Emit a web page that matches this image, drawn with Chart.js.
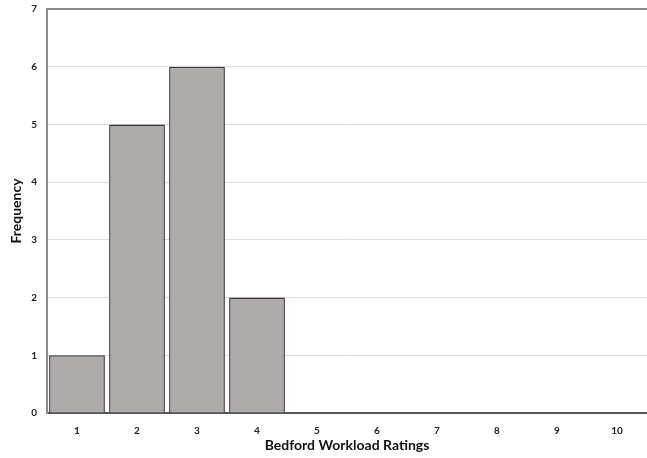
<!DOCTYPE html>
<html>
<head>
<meta charset="utf-8">
<script src="https://cdn.jsdelivr.net/npm/chart.js"></script>
<style>
  html, body { margin: 0; padding: 0; background: #fff; overflow: hidden; }
  #outer { width: 647px; height: 458px; overflow: hidden; position: relative; }
  #wrap { width: 647px; height: 465px; position: absolute; top: -7px; left: 0; }
</style>
</head>
<body>
<div id="outer"><div id="wrap"><canvas id="histChart"></canvas></div></div>
<script>
const ratings = ["1", "2", "3", "4", "5", "6", "7", "8", "9", "10"];
const frequency = [1, 5, 6, 2, 0, 0, 0, 0, 0, 0];
const yTicks = [0, 1, 2, 3, 4, 5, 6, 7];

const ctx = document.getElementById("histChart").getContext("2d");
new Chart(ctx, {
  type: "bar",
  data: {
    labels: ratings,
    datasets: [{
      label: "Frequency",
      data: frequency,
      backgroundColor: "#b0abab",
      borderColor: "#3a3a3a",
      borderWidth: 1.5,
      barPercentage: 0.93,
      categoryPercentage: 1.0,
    }],
  },
  options: {
    responsive: true,
    maintainAspectRatio: false,
    animation: false,
    layout: { padding: { top: 3, right: 0, left: 4, bottom: 0 } },
    plugins: {
      legend: { display: false },
      tooltip: { enabled: false },
    },
    scales: {
      x: {
        grid: { display: false },
        border: { color: "#555", width: 2 },
        ticks: {
          color: "#222",
          font: { family: "Lato", weight: "bold", size: 10 },
          padding: 4,
          maxRotation: 0,
        },
        title: {
          display: true,
          text: "Bedford Workload Ratings",
          color: "#111",
          font: { family: "Lato", weight: "bold", size: 14 },
          padding: { top: 3 },
        },
        afterFit: (scale) => { scale.height = 45; },
      },
      y: {
        min: 0,
        max: 7,
        afterBuildTicks: (scale) => { scale.ticks = yTicks.map((v) => ({ value: v })); },
        grid: {
          color: (c) => (c.tick && c.tick.value === 7 ? "#8a8a8a" : "#dcdcdc"),
          lineWidth: (c) => (c.tick && c.tick.value === 7 ? 2 : 1),
          drawTicks: false,
        },
        border: { color: "#8a8a8a", width: 2 },
        ticks: {
          color: "#222",
          font: { family: "Lato", weight: "bold", size: 10 },
          padding: 10,
        },
        title: {
          display: true,
          text: "Frequency",
          color: "#111",
          font: { family: "Lato", weight: "bold", size: 14 },
          padding: { bottom: 2 },
        },
        afterFit: (scale) => { scale.width = 43; },
      },
    },
  },
});
</script>
</body>
</html>
